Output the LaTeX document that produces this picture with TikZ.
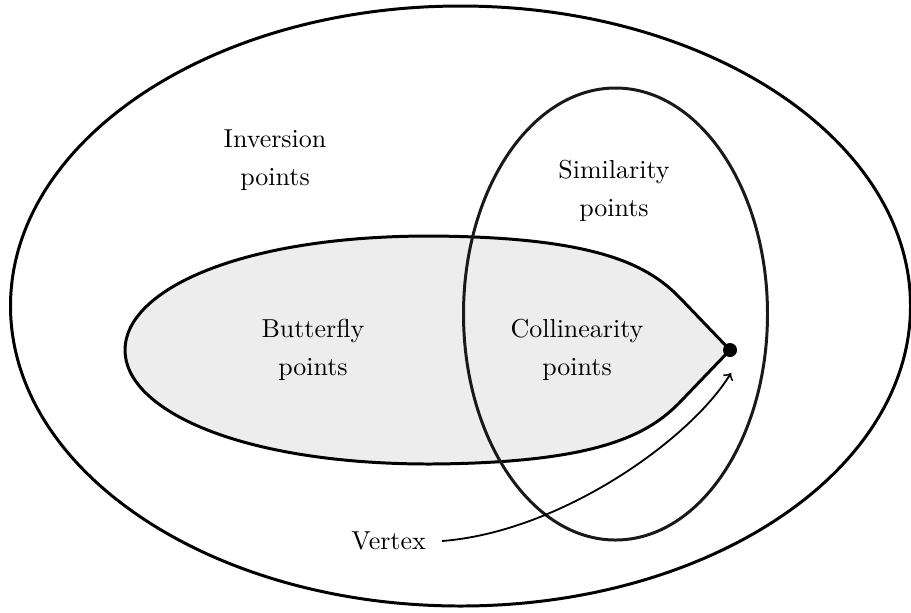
\documentclass[tikz,border=0pt]{standalone}
\begin{document}
\begin{tikzpicture}[x=0.385pt,y=-0.385pt,
  setline/.style={line width=1.15pt},
  lbl/.style={align=center,font=\fontsize{10}{14.6}\selectfont}]
\useasboundingbox (0,0) rectangle (911,612);
\draw[setline] (460.5,306) ellipse [x radius=450, y radius=300];
\coordinate (v) at (730,350);
\draw[setline,fill=black!7] (v) -- (682,300) .. controls (650,266) and (600,237) .. (430,236)
  .. controls (240,236) and (125,290) .. (125,350)
  .. controls (125,410) and (240,464) .. (430,464)
  .. controls (600,463) and (650,434) .. (682,400) -- cycle;
\draw[setline,black!90] (615.5,314) ellipse [x radius=152, y radius=226];
\node[lbl] (inv) at (275,160) {Inversion\\points};
\node[lbl] (sim) at (614,191) {Similarity\\points};
\node[lbl] (but) at (313,350) {Butterfly\\points};
\node[lbl] (col) at (577,350) {Collinearity\\points};
\node[lbl,anchor=east] (vtx) at (435,541) {Vertex};
\fill (v) circle (7);
\coordinate (vt) at (731,373);
\draw[line width=0.7pt,->] (vtx.east) ++(7,0) .. controls (560,532) and (690,440) .. (vt);
\end{tikzpicture}
\end{document}
